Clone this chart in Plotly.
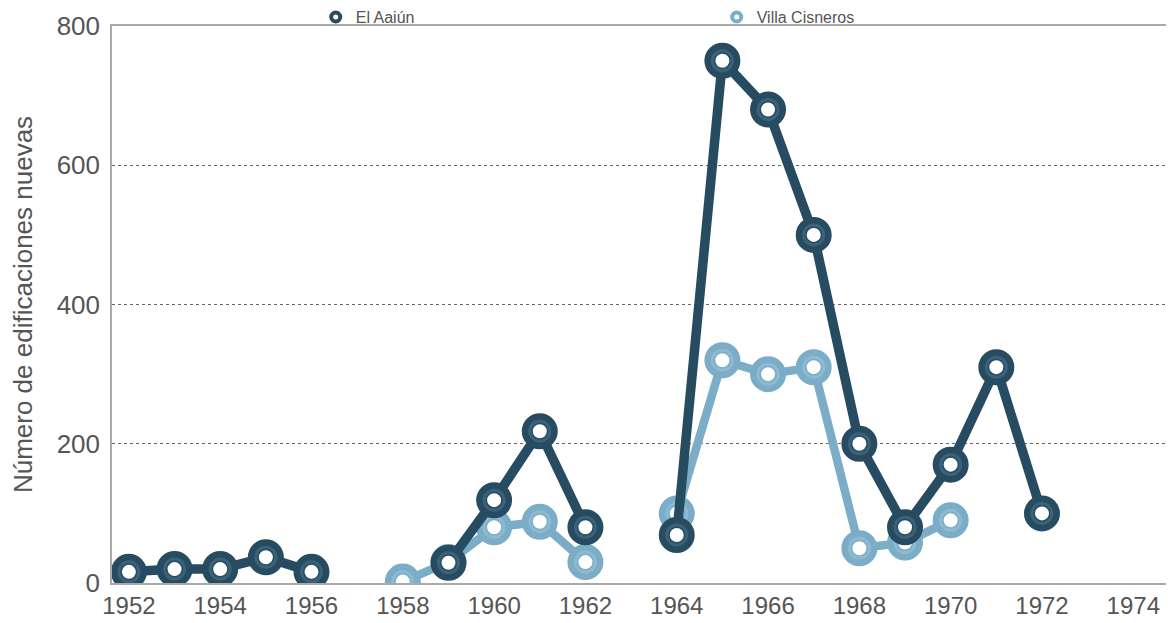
import plotly.graph_objects as go

years = list(range(1952, 1973))
el_aaiun = [16, 20, 20, 37, 16, None, None, 29, 119, 218, 80, None, 69, 750, 680, 500, 200, 80, 170, 310, 100]
villa_cisneros = [None, None, None, None, None, None, 2, 30, 80, 88, 30, None, 100, 320, 300, 310, 50, 58, 90, None, None]
x_ticks = list(range(1952, 1976, 2))
y_ticks = [0, 200, 400, 600, 800]

dark = "#274c61"
dark_inner = "#3b6278"
light = "#7badc7"
light_inner = "#8dbad0"

fig = go.Figure()

def add_series(y, col, inner, lw):
    fig.add_trace(go.Scatter(
        x=years, y=y, mode="lines+markers", connectgaps=False, showlegend=False,
        line=dict(color=col, width=lw),
        marker=dict(symbol="circle", size=25, color="white", line=dict(color=col, width=11)),
        hoverinfo="skip"))
    fig.add_trace(go.Scatter(
        x=years, y=y, mode="markers", showlegend=False,
        marker=dict(symbol="circle", size=20, color="rgba(0,0,0,0)", line=dict(color=inner, width=3)),
        hoverinfo="skip"))

add_series(villa_cisneros, light, light_inner, 8.5)
add_series(el_aaiun, dark, dark_inner, 9.5)

for nm, col in [("El Aaiún", dark), ("Villa Cisneros", light)]:
    fig.add_trace(go.Scatter(
        x=[None], y=[None], mode="markers", name=nm,
        marker=dict(symbol="circle", size=9, color="white", line=dict(color=col, width=4))))

fig.update_layout(
    width=1166, height=615,
    margin=dict(l=104, r=1, t=18, b=40, autoexpand=False),
    paper_bgcolor="white", plot_bgcolor="white",
    font=dict(family="Liberation Sans, Arial, sans-serif", color="#555555"),
    legend=dict(orientation="h", x=0.192, xanchor="left", y=1.016, yanchor="middle",
                entrywidth=356, entrywidthmode="pixels",
                font=dict(size=16, color="#555555"), bgcolor="rgba(0,0,0,0)",
                itemwidth=30),
    xaxis=dict(range=[1951.63, 1974.87], tickvals=x_ticks,
               tickfont=dict(size=24, color="#555555", family="Liberation Sans Narrow, Liberation Sans, Arial"),
               showgrid=False, zeroline=False,
               showline=True, linecolor="#aaaaaa", linewidth=1.5, mirror=True, ticks=""),
    yaxis=dict(range=[0, 800], tickvals=y_ticks, ticklabelstandoff=5,
               tickfont=dict(size=26, color="#555555"), showgrid=True,
               gridcolor="#666666", griddash="dot", gridwidth=1, zeroline=False,
               showline=True, linecolor="#aaaaaa", linewidth=1.5, mirror=True, ticks="",
               title=dict(text="Número de edificaciones nuevas", font=dict(size=26, color="#555555"), standoff=20)),
)

fig.write_html("out.html")
